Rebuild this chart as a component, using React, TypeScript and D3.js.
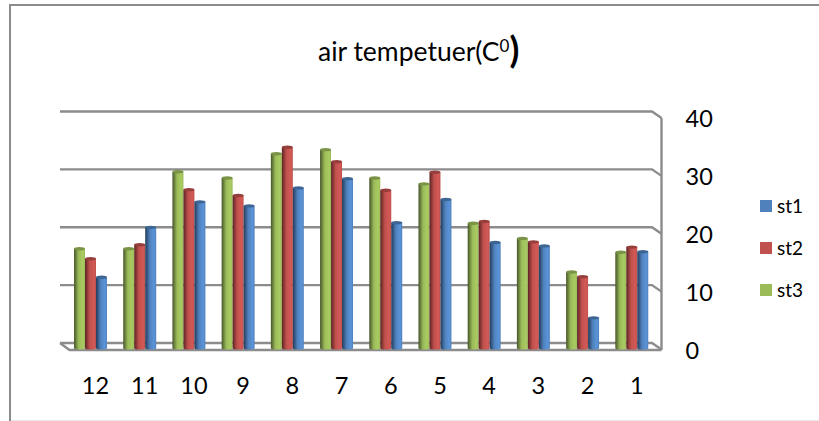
import React from "react";
import * as d3 from "d3";

const months = ["12", "11", "10", "9", "8", "7", "6", "5", "4", "3", "2", "1"];
const st3 = [17.1, 17.1, 30.4, 29.3, 33.5, 34.2, 29.3, 28.3, 21.5, 18.9, 13.1, 16.5];
const st2 = [15.4, 17.8, 27.3, 26.3, 34.6, 32.1, 27.2, 30.3, 21.8, 18.3, 12.3, 17.4];
const st1 = [12.2, 20.8, 25.2, 24.5, 27.6, 29.2, 21.6, 25.6, 18.2, 17.6, 5.2, 16.6];
const yTicks = [0, 10, 20, 30, 40];
const seriesNames = ["st3", "st2", "st1"];
const legendNames = ["st1", "st2", "st3"];
const seriesValues = [st3, st2, st1];
const baseColors: Record<string, string> = { st1: "#4f81bd", st2: "#c0504d", st3: "#9bbb59" };
const darkColors: Record<string, string> = { st1: "#223a57", st2: "#5a2422", st3: "#46552a" };
const lightColors: Record<string, string> = { st1: "#5b94d8", st2: "#d25a56", st3: "#a9cb62" };
const topColors: Record<string, string> = { st1: "#3d6594", st2: "#963e3b", st3: "#7a9346" };

const FONT = "Lato, 'Open Sans', sans-serif";
const GRID = "#8c8c8c";

const x0 = d3.scaleBand<string>().domain(months).range([60.5, 651]).paddingInner(0.33).paddingOuter(0.165);
const x1 = d3.scaleBand<string>().domain(seriesNames).range([0, x0.bandwidth()]);
const yBack = d3.scaleLinear().domain([0, 40]).range([343, 111.5]);
const yBar = d3.scaleLinear().domain([0, 40]).range([348, 116]);
const barShift = 5.4;
const labelShift = 10.4;
const depthX = 9.5;
const depthY = 6.5;
const backLeft = 60;
const backRight = 652;

export default function App() {
  return (
    <svg
      width={819}
      height={421}
      style={{ position: "absolute", left: 0, top: 0, display: "block", background: "#fff" }}
      fontFamily={FONT}
    >
      <defs>
        {legendNames.map((s) => (
          <linearGradient key={s} id={`cyl-${s}`} x1="0" x2="1" y1="0" y2="0">
            <stop offset="0" stopColor={darkColors[s]} />
            <stop offset="0.42" stopColor={baseColors[s]} />
            <stop offset="0.8" stopColor={lightColors[s]} />
            <stop offset="1" stopColor={baseColors[s]} />
          </linearGradient>
        ))}
      </defs>

      {/* outer frame */}
      <line x1={9} x2={819} y1={5} y2={5} stroke={GRID} strokeWidth={2} />
      <line x1={10} x2={10} y1={4} y2={421} stroke={GRID} strokeWidth={2} />
      <line x1={11} x2={819} y1={420.5} y2={420.5} stroke="#e8e8e8" strokeWidth={1} />

      {/* title */}
      <text x={318} y={61} fontSize={26.5} fill="#000">
        air tempetuer(C
        <tspan fontSize={17} dy={-9}>0</tspan>
        <tspan fontSize={36} fontWeight={700} dy={11}>)</tspan>
      </text>

      {/* gridlines with 3D return */}
      {yTicks.map((t) => (
        <path
          key={t}
          d={`M${backLeft},${yBack(t)}H${backRight}L${backRight + depthX},${yBack(t) + depthY}`}
          fill="none"
          stroke={GRID}
          strokeWidth={2.4}
        />
      ))}
      {/* floor and side wall */}
      <path
        d={`M${backLeft},${yBack(0)}L${backLeft + depthX},${yBack(0) + depthY + 0.5}H${backRight + depthX}`}
        fill="none"
        stroke={GRID}
        strokeWidth={2.4}
      />
      <line
        x1={backRight + depthX}
        x2={backRight + depthX}
        y1={yBack(40) + depthY}
        y2={yBack(0) + depthY + 0.5}
        stroke={GRID}
        strokeWidth={2.4}
      />

      {/* bars */}
      {months.map((m, i) => (
        <g key={m}>
          {seriesNames.map((s, k) => {
            const v = seriesValues[k][i];
            const bx = x0(m)! + x1(s)! + barShift;
            const w = x1.bandwidth();
            const top = yBar(v);
            const bottom = yBar(0);
            return (
              <g key={s}>
                <path
                  d={`M${bx},${top}V${bottom}A${w / 2},1.6 0 0 0 ${bx + w},${bottom}V${top}Z`}
                  fill={`url(#cyl-${s})`}
                />
                <ellipse cx={bx + w / 2} cy={top} rx={w / 2} ry={1.7} fill={topColors[s]} />
              </g>
            );
          })}
        </g>
      ))}

      {/* category labels */}
      {months.map((m) => (
        <text
          key={m}
          x={x0(m)! + x0.bandwidth() / 2 + labelShift}
          y={393.5}
          fontSize={23.5}
          textAnchor="middle"
          fill="#000"
        >
          {m}
        </text>
      ))}

      {/* value labels */}
      {yTicks.map((t) => (
        <text key={t} x={685.5} y={yBack(t) + 15.5} fontSize={23.5} fill="#000">
          {t}
        </text>
      ))}

      {/* legend */}
      {legendNames.map((s, i) => (
        <g key={s}>
          <rect x={760} y={200 + i * 42} width={12} height={12} fill={baseColors[s]} />
          <text x={777} y={213 + i * 42} fontSize={19} fill="#000">
            {s}
          </text>
        </g>
      ))}
    </svg>
  );
}
